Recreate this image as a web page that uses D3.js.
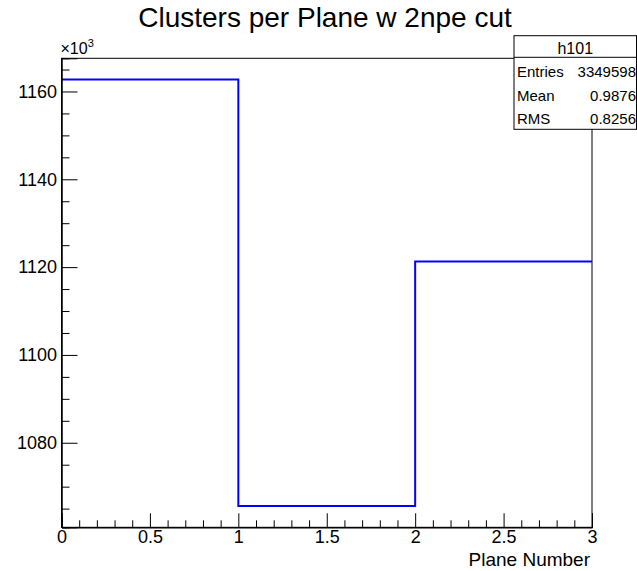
<!DOCTYPE html>
<html>
<head>
<meta charset="utf-8">
<script src="https://cdn.jsdelivr.net/npm/d3@7"></script>
<style>
  html, body { margin: 0; padding: 0; background: #fff; }
  svg { display: block; font-family: "Liberation Sans", Arial, Helvetica, sans-serif; }
</style>
</head>
<body>
<svg id="chart" width="637" height="571"></svg>
<script>
// ---- data ----
const binEdges = [0, 1, 2, 3];
const binCounts = [1162.7, 1065.6, 1121.3]; // in units of 10^3
const xMajorTicks = [0, 0.5, 1, 1.5, 2, 2.5, 3];
const xTickLabels = ["0", "0.5", "1", "1.5", "2", "2.5", "3"];
const yMajorTicks = [1080, 1100, 1120, 1140, 1160];
const statsLabels = ["Entries", "Mean", "RMS"];
const statsValues = ["3349598", "0.9876", "0.8256"];
const histName = "h101";
const titleText = "Clusters per Plane w 2npe cut";
const xTitle = "Plane Number";

// ---- layout ----
const frame = { left: 61.5, right: 592, top: 58.3, bottom: 527.3 };
const svg = d3.select("#chart");

const ymin0 = d3.min(binCounts), ymax0 = d3.max(binCounts);
const pad = 0.05 * (ymax0 - ymin0);
const x = d3.scaleLinear().domain([binEdges[0], binEdges[binEdges.length - 1]]).range([frame.left, frame.right]);
const y = d3.scaleLinear().domain([ymin0 - pad, ymax0 + pad]).range([frame.bottom, frame.top]);

// minor ticks
const xMinor = d3.range(0, 30.5, 1).map(d => d / 10).filter(d => !xMajorTicks.some(m => Math.abs(m - d) < 1e-9));
const yDom = y.domain();
const yMinor = d3.range(Math.ceil(yDom[0] / 5) * 5, yDom[1], 5).filter(d => d % 20 !== 0);

// frame
svg.append("rect")
  .attr("x", frame.left).attr("y", frame.top)
  .attr("width", frame.right - frame.left).attr("height", frame.bottom - frame.top)
  .attr("fill", "none").attr("stroke", "#000").attr("stroke-width", 1);

// histogram step line
const pts = [];
binCounts.forEach((v, i) => {
  pts.push([x(binEdges[i]), y(v)]);
  pts.push([x(binEdges[i + 1]), y(v)]);
});
svg.append("path")
  .attr("d", d3.line()(pts))
  .attr("fill", "none").attr("stroke", "#0000ff").attr("stroke-width", 2);

// axes
const fontTick = 18;
const gx = svg.append("g").attr("transform", `translate(0,${frame.bottom})`)
  .call(d3.axisBottom(x).tickValues(xMajorTicks).tickSize(-14).tickPadding(3)
    .tickFormat((d, i) => xTickLabels[i]));
const gxm = svg.append("g").attr("transform", `translate(0,${frame.bottom})`)
  .call(d3.axisBottom(x).tickValues(xMinor).tickSize(-7).tickFormat(""));
const gy = svg.append("g").attr("transform", `translate(${frame.left},0)`)
  .call(d3.axisLeft(y).tickValues(yMajorTicks).tickSize(-16).tickPadding(4.5)
    .tickFormat(d3.format("d")));
const gym = svg.append("g").attr("transform", `translate(${frame.left},0)`)
  .call(d3.axisLeft(y).tickValues(yMinor).tickSize(-8).tickFormat(""));

[gx, gxm, gy, gym].forEach(g => {
  g.select(".domain").attr("stroke", "#000").attr("stroke-width", 1);
  g.selectAll(".tick line").attr("stroke", "#000").attr("stroke-width", 1);
  g.selectAll(".tick text").attr("fill", "#000")
    .style("font-size", fontTick + "px")
    .style("font-family", '"Liberation Sans", Arial, sans-serif');
});

// x10^3 label
const mult = svg.append("text").attr("x", frame.left - 1).attr("y", 53.5)
  .style("font-size", "16px").attr("fill", "#000");
mult.append("tspan").text("\u00d710");
mult.append("tspan").attr("dy", -7).style("font-size", "11px").text("3");

// title
svg.append("text").attr("x", 325).attr("y", 27).attr("text-anchor", "middle")
  .style("font-size", "28px").attr("fill", "#000").text(titleText);

// x axis title
svg.append("text").attr("x", 590).attr("y", 566).attr("text-anchor", "end")
  .style("font-size", "19px").attr("fill", "#000").text(xTitle);

// stats box
const box = { left: 514, right: 636.5, top: 35.7, sep: 57.3, bottom: 129.3 };
const sb = svg.append("g");
sb.append("rect").attr("x", box.left).attr("y", box.top)
  .attr("width", box.right - box.left).attr("height", box.bottom - box.top)
  .attr("fill", "#fff").attr("stroke", "#000").attr("stroke-width", 1);
sb.append("line").attr("x1", box.left).attr("x2", box.right).attr("y1", box.sep).attr("y2", box.sep)
  .attr("stroke", "#000").attr("stroke-width", 1);
sb.append("text").attr("x", (box.left + box.right) / 2).attr("y", 54).attr("text-anchor", "middle")
  .style("font-size", "16px").attr("fill", "#000").text(histName);
const rowBase = [76.5, 100.5, 124];
statsLabels.forEach((lab, i) => {
  sb.append("text").attr("x", box.left + 3).attr("y", rowBase[i])
    .style("font-size", "15px").attr("fill", "#000").text(lab);
  sb.append("text").attr("x", box.right - 0.5).attr("y", rowBase[i]).attr("text-anchor", "end")
    .style("font-size", "15px").attr("fill", "#000").text(statsValues[i]);
});
</script>
</body>
</html>
